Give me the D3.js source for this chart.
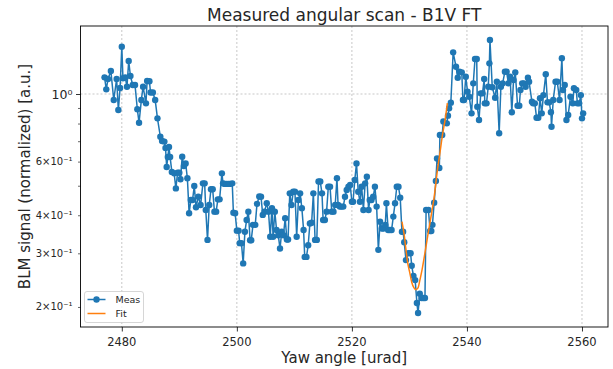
<!DOCTYPE html>
<html>
<head>
<meta charset="utf-8">
<script src="https://cdn.jsdelivr.net/npm/d3@7"></script>
<style>
    body { margin: 0; background: #fff; }
    svg { display: block; font-family: 'DejaVu Sans', sans-serif; }
</style>
</head>
<body>
<svg id="scan_svg" width="613" height="369"></svg>
<script>
// measured scan
const measX = [
    2477.0, 2477.3, 2477.6, 2478.1, 2478.6, 2479.1, 2479.4, 2479.7, 2480.0, 2480.2,
    2480.6, 2480.9, 2481.2, 2481.5, 2481.9, 2482.3, 2482.7, 2483.0, 2483.4, 2483.7,
    2484.2, 2484.4, 2484.8, 2485.0, 2485.4, 2485.8, 2486.2, 2486.7, 2487.0, 2487.4,
    2487.6, 2487.8, 2488.0, 2488.2, 2488.4, 2488.7, 2489.1, 2489.4, 2489.7, 2490.0,
    2490.2, 2490.5, 2490.8, 2491.1, 2491.4, 2491.7, 2492.0, 2492.3, 2492.6, 2492.9,
    2493.3, 2493.7, 2494.1, 2494.4, 2494.6, 2494.9, 2495.2, 2495.5, 2495.8, 2496.1,
    2496.4, 2496.7, 2497.0, 2497.4, 2497.6, 2497.9, 2498.2, 2498.5, 2498.8, 2499.2,
    2499.4, 2499.7, 2500.0, 2500.3, 2500.5, 2500.8, 2501.1, 2501.4, 2501.7, 2502.0,
    2502.3, 2502.5, 2502.8, 2503.2, 2503.5, 2503.9, 2504.2, 2504.5, 2504.8, 2505.2,
    2505.5, 2505.8, 2506.1, 2506.3, 2506.6, 2506.9, 2507.2, 2507.5, 2507.8, 2508.1,
    2508.4, 2508.7, 2508.9, 2509.2, 2509.5, 2509.8, 2510.1, 2510.4, 2510.7, 2511.0,
    2511.3, 2511.6, 2511.8, 2512.1, 2512.4, 2512.7, 2513.0, 2513.3, 2513.6, 2513.9,
    2514.2, 2514.5, 2514.8, 2515.0, 2515.3, 2515.6, 2515.9, 2516.2, 2516.5, 2516.8,
    2517.1, 2517.4, 2517.6, 2517.9, 2518.2, 2518.5, 2518.8, 2519.1, 2519.4, 2519.7,
    2520.0, 2520.2, 2520.5, 2520.8, 2521.1, 2521.4, 2521.7, 2522.0, 2522.3, 2522.6,
    2522.9, 2523.1, 2523.4, 2523.7, 2524.0, 2524.3, 2524.6, 2524.9, 2525.2, 2525.5,
    2525.8, 2526.0, 2526.3, 2526.6, 2526.9, 2527.2, 2527.5, 2527.8, 2528.1, 2528.4,
    2528.7, 2528.9, 2529.1, 2529.4, 2529.8, 2530.2, 2530.4, 2530.7, 2531.0, 2531.3,
    2531.5, 2531.8, 2532.1, 2532.4, 2532.7, 2532.9, 2533.3, 2533.6, 2533.8, 2534.0,
    2534.3, 2534.6, 2534.8, 2535.2, 2535.3, 2535.7, 2535.9, 2536.5, 2536.7, 2536.9,
    2537.2, 2537.6, 2538.1, 2538.4, 2538.7, 2539.1, 2539.3, 2539.5, 2539.8, 2540.1,
    2540.4, 2540.8, 2541.1, 2541.4, 2541.7, 2541.8, 2542.1, 2542.4, 2542.7, 2543.0,
    2543.1, 2543.4, 2543.7, 2543.9, 2544.0, 2544.4, 2544.9, 2545.2, 2545.6, 2545.9,
    2546.2, 2546.6, 2546.9, 2547.2, 2547.5, 2547.8, 2548.1, 2548.4, 2548.8, 2549.1,
    2549.3, 2549.6, 2549.9, 2550.2, 2550.6, 2550.8, 2551.3, 2551.5, 2551.8, 2552.1,
    2552.4, 2552.7, 2553.0, 2553.3, 2553.7, 2554.0, 2554.3, 2554.6, 2554.7, 2555.0,
    2555.4, 2555.7, 2556.1, 2556.5, 2556.7, 2557.0, 2557.3, 2557.6, 2558.0, 2558.4,
    2558.6, 2559.0, 2559.2, 2559.5, 2559.8, 2560.0, 2560.2
];
const measY = [
    1.134, 1.036, 1.120, 1.190, 0.956, 1.120, 0.886, 1.046, 1.429, 1.126,
    1.134, 1.057, 1.283, 1.146, 1.070, 1.070, 0.891, 0.805, 0.956, 1.057,
    0.932, 1.103, 1.101, 1.011, 1.011, 0.956, 0.832, 0.724, 0.701, 0.698,
    0.665, 0.576, 0.621, 0.670, 0.621, 0.555, 0.549, 0.490, 0.552, 0.552,
    0.525, 0.623, 0.580, 0.592, 0.529, 0.406, 0.449, 0.449, 0.499, 0.425,
    0.460, 0.432, 0.509, 0.509, 0.416, 0.332, 0.432, 0.487, 0.487, 0.411,
    0.411, 0.451, 0.451, 0.549, 0.509, 0.507, 0.507, 0.507, 0.507, 0.509,
    0.408, 0.406, 0.356, 0.356, 0.324, 0.324, 0.278, 0.353, 0.386, 0.411,
    0.331, 0.331, 0.372, 0.372, 0.436, 0.461, 0.460, 0.401, 0.411, 0.438,
    0.411, 0.340, 0.422, 0.340, 0.411, 0.358, 0.344, 0.311, 0.353, 0.344,
    0.391, 0.333, 0.333, 0.472, 0.432, 0.478, 0.478, 0.340, 0.449, 0.472,
    0.422, 0.358, 0.292, 0.292, 0.319, 0.376, 0.378, 0.472, 0.332, 0.332,
    0.516, 0.516, 0.472, 0.386, 0.386, 0.411, 0.496, 0.496, 0.411, 0.411,
    0.432, 0.529, 0.432, 0.427, 0.427, 0.427, 0.460, 0.484, 0.496, 0.503,
    0.443, 0.443, 0.522, 0.592, 0.478, 0.443, 0.496, 0.416, 0.509, 0.535,
    0.416, 0.449, 0.449, 0.460, 0.496, 0.427, 0.308, 0.381, 0.362, 0.362,
    0.372, 0.438, 0.358, 0.358, 0.358, 0.396, 0.438, 0.496, 0.496, 0.457,
    0.353, 0.353, 0.326, 0.285, 0.300, 0.300, 0.273, 0.253, 0.245, 0.206,
    0.191, 0.221, 0.214, 0.214, 0.214, 0.416, 0.416, 0.355, 0.355, 0.372,
    0.440, 0.518, 0.614, 0.572, 0.734, 0.734, 0.813, 0.801, 0.849, 0.898,
    0.936, 1.370, 1.229, 1.131, 1.184, 1.178, 0.956, 0.956, 1.140, 1.017,
    0.980, 0.864, 1.084, 1.303, 1.303, 0.908, 0.822, 1.005, 1.005, 1.120,
    0.932, 0.932, 1.057, 1.261, 1.504, 1.052, 0.972, 1.097, 0.743, 1.057,
    1.084, 1.184, 1.184, 1.084, 1.140, 0.871, 1.111, 1.178, 0.915, 0.915,
    1.031, 1.084, 1.084, 1.057, 1.131, 1.097, 0.943, 0.932, 0.932, 0.836,
    0.836, 0.968, 0.864, 0.992, 1.161, 0.939, 0.939, 0.871, 0.781, 0.956,
    1.097, 1.097, 0.956, 1.310, 1.031, 1.070, 0.822, 0.853, 0.980, 0.932,
    1.044, 1.031, 0.932, 0.932, 0.992, 0.832, 0.864
];

// fit curve
const fitX = [2528.7, 2529.1, 2529.4, 2529.7, 2530.1, 2530.4, 2530.8, 2531.1, 2531.5, 2531.8,
    2532.2, 2532.7, 2533.2, 2533.8, 2534.3, 2534.8, 2535.3, 2535.8, 2536.2, 2536.6];
const fitY = [0.381, 0.344, 0.308, 0.279, 0.257, 0.241, 0.231, 0.228, 0.231, 0.244,
    0.265, 0.301, 0.344, 0.401, 0.459, 0.550, 0.640, 0.745, 0.822, 0.934];

const xTicks = [2480, 2500, 2520, 2540, 2560];
const yMajorTicks = [1];
const yMajorLabels = ['10\u2070'];
const yMinorTicks = [0.2, 0.3, 0.4, 0.5, 0.6, 0.7, 0.8, 0.9];
const yMinorLabelled = [0.2, 0.3, 0.4, 0.6];
const yMinorLabels = ['2\u00d710\u207b\u00b9', '3\u00d710\u207b\u00b9', '4\u00d710\u207b\u00b9', '6\u00d710\u207b\u00b9'];

const colors = {
    meas: '#1f77b4',
    fit: '#ff7f0e',
    grid: '#b0b0b0',
    text: '#262626'
};

const svg = d3.select('#scan_svg');
const svgWidth = +svg.attr('width');
const svgHeight = +svg.attr('height');
const margin = {top: 26, right: 5, bottom: 42, left: 80.5};
const innerWidth = svgWidth - margin.left - margin.right;
const innerHeight = svgHeight - margin.top - margin.bottom;

// scales map straight to page pixels
const xScale = d3.scaleLinear()
    .domain([2472.82, 2564.52])
    .range([margin.left, margin.left + innerWidth]);

const yScale = d3.scaleLog()
    .domain([0.1719, 1.672])
    .range([margin.top + innerHeight, margin.top]);

svg.append('rect').attr('width', svgWidth).attr('height', svgHeight).attr('fill', '#fff');

// grid
svg.append('g').selectAll('line')
    .data(xTicks)
    .enter().append('line')
    .attr('x1', d => xScale(d)).attr('x2', d => xScale(d))
    .attr('y1', margin.top).attr('y2', margin.top + innerHeight)
    .attr('stroke', colors.grid).attr('stroke-width', 0.7)
    .attr('stroke-dasharray', '2,2');
svg.append('g').selectAll('line')
    .data(yMajorTicks)
    .enter().append('line')
    .attr('x1', margin.left).attr('x2', margin.left + innerWidth)
    .attr('y1', d => yScale(d)).attr('y2', d => yScale(d))
    .attr('stroke', colors.grid).attr('stroke-width', 0.7)
    .attr('stroke-dasharray', '2,2');

// x axis ticks
const xAxisG = svg.append('g')
    .attr('transform', `translate(0, ${margin.top + innerHeight})`)
    .call(d3.axisBottom(xScale).tickValues(xTicks).tickSize(4.5).tickFormat(''));
xAxisG.select('.domain').remove();
xAxisG.selectAll('text').remove();
xAxisG.selectAll('line').attr('stroke', '#000').attr('stroke-width', 0.8);

svg.append('g').selectAll('text')
    .data(xTicks)
    .enter().append('text')
    .attr('x', d => xScale(d))
    .attr('y', margin.top + innerHeight + 18.5)
    .attr('text-anchor', 'middle')
    .attr('font-size', 11.5)
    .attr('fill', colors.text)
    .text(d => d);

// y axis ticks
const yMajorG = svg.append('g')
    .attr('transform', `translate(${margin.left}, 0)`)
    .call(d3.axisLeft(yScale).tickValues(yMajorTicks).tickSize(4.5).tickFormat(''));
yMajorG.select('.domain').remove();
yMajorG.selectAll('text').remove();
yMajorG.selectAll('line').attr('stroke', '#000').attr('stroke-width', 0.8);

const yMinorG = svg.append('g')
    .attr('transform', `translate(${margin.left}, 0)`)
    .call(d3.axisLeft(yScale).tickValues(yMinorTicks).tickSize(2.5).tickFormat(''));
yMinorG.select('.domain').remove();
yMinorG.selectAll('text').remove();
yMinorG.selectAll('line').attr('stroke', '#000').attr('stroke-width', 0.6);

// y tick labels in 10-power notation
svg.append('g').selectAll('text')
    .data(yMajorTicks)
    .enter().append('text')
    .attr('x', margin.left - 8)
    .attr('y', d => yScale(d) + 4.5)
    .attr('text-anchor', 'end')
    .attr('font-size', 12.5)
    .attr('fill', colors.text)
    .text((d, i) => yMajorLabels[i]);

svg.append('g').selectAll('text')
    .data(yMinorLabelled)
    .enter().append('text')
    .attr('x', margin.left - 8)
    .attr('y', d => yScale(d) + 3.5)
    .attr('text-anchor', 'end')
    .attr('font-size', 10)
    .attr('fill', colors.text)
    .text((d, i) => yMinorLabels[i]);

// measured data
const measData = measX.map((x, i) => ({x: x, y: measY[i]}));
const fitData = fitX.map((x, i) => ({x: x, y: fitY[i]}));

const measLine = d3.line()
    .x(d => xScale(d.x))
    .y(d => yScale(d.y));

svg.append('path')
    .datum(measData)
    .attr('d', measLine)
    .attr('fill', 'none')
    .attr('stroke', colors.meas)
    .attr('stroke-width', 1.5)
    .attr('stroke-linejoin', 'round');

svg.append('g').selectAll('circle')
    .data(measData)
    .enter().append('circle')
    .attr('cx', d => xScale(d.x))
    .attr('cy', d => yScale(d.y))
    .attr('r', 3.2)
    .attr('fill', colors.meas);

// fit
const fitLine = d3.line()
    .x(d => xScale(d.x))
    .y(d => yScale(d.y))
    .curve(d3.curveMonotoneX);

svg.append('path')
    .datum(fitData)
    .attr('d', fitLine)
    .attr('fill', 'none')
    .attr('stroke', colors.fit)
    .attr('stroke-width', 1.5);

// frame
svg.append('rect')
    .attr('x', margin.left).attr('y', margin.top)
    .attr('width', innerWidth).attr('height', innerHeight)
    .attr('fill', 'none').attr('stroke', '#000').attr('stroke-width', 0.9);

// legend
const legendX = margin.left + 4;
const legendY = margin.top + innerHeight - 35.5;
svg.append('rect')
    .attr('x', legendX).attr('y', legendY)
    .attr('width', 59).attr('height', 31).attr('rx', 2.5)
    .attr('fill', '#fff').attr('fill-opacity', 0.8)
    .attr('stroke', '#cccccc').attr('stroke-width', 0.8);
const legendItems = [
    {label: 'Meas', color: colors.meas, marker: true},
    {label: 'Fit', color: colors.fit, marker: false}
];
legendItems.forEach(function (item, i) {
    const y = legendY + 8 + i * 14;
    svg.append('line')
        .attr('x1', legendX + 3).attr('x2', legendX + 21).attr('y1', y).attr('y2', y)
        .attr('stroke', item.color).attr('stroke-width', 1.5);
    if (item.marker) {
        svg.append('circle').attr('cx', legendX + 12).attr('cy', y).attr('r', 3.2).attr('fill', item.color);
    }
    svg.append('text')
        .attr('x', legendX + 31).attr('y', y + 3.5)
        .attr('font-size', 9.5).attr('fill', colors.text)
        .text(item.label);
});

// title and axis labels
svg.append('text')
    .attr('x', margin.left + innerWidth / 2).attr('y', 21)
    .attr('text-anchor', 'middle')
    .attr('font-size', 17).attr('fill', colors.text)
    .text('Measured angular scan - B1V FT');

svg.append('text')
    .attr('x', margin.left + innerWidth / 2).attr('y', 363)
    .attr('text-anchor', 'middle')
    .attr('font-size', 15).attr('fill', colors.text)
    .text('Yaw angle [urad]');

svg.append('text')
    .attr('transform', `translate(30, ${margin.top + innerHeight / 2}) rotate(-90)`)
    .attr('text-anchor', 'middle')
    .attr('font-size', 15).attr('fill', colors.text)
    .text('BLM signal (normalized) [a.u.]');
</script>
</body>
</html>
